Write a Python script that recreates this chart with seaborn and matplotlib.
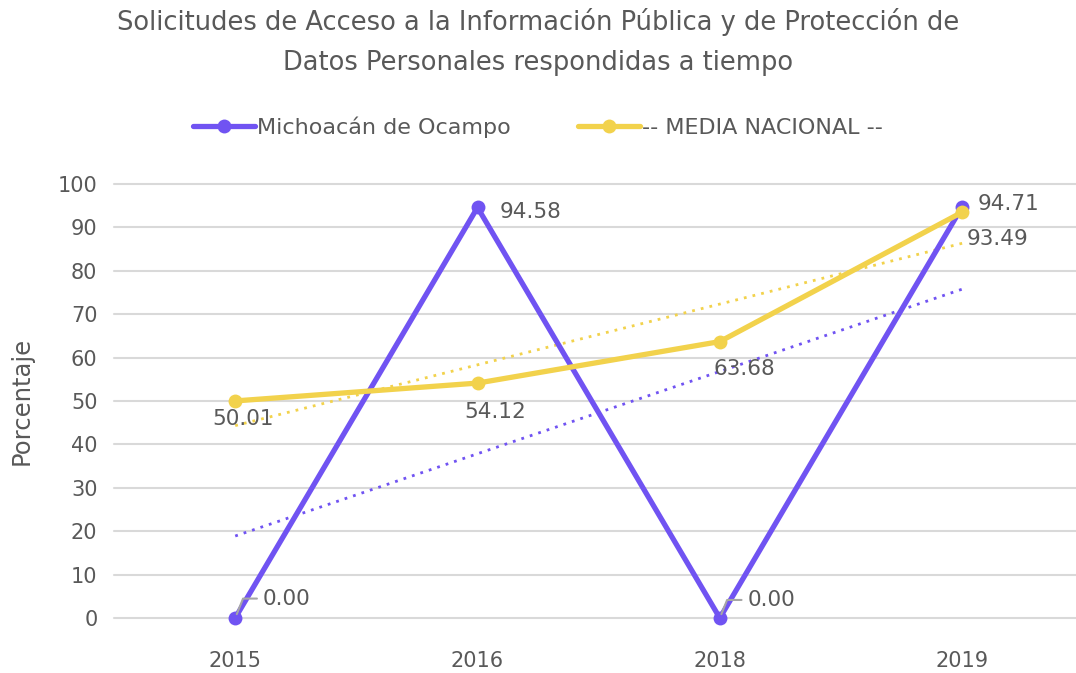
import numpy as np
import pandas as pd
import matplotlib
matplotlib.use("Agg")
import matplotlib.pyplot as plt
import seaborn as sns

years = ["2015", "2016", "2018", "2019"]
michoacan = [0.00, 94.58, 0.00, 94.71]
media = [50.01, 54.12, 63.68, 93.49]
series_names = ["Michoacán de Ocampo", "-- MEDIA NACIONAL --"]
y_ticks = [0, 10, 20, 30, 40, 50, 60, 70, 80, 90, 100]

PURPLE = "#7053F2"
YELLOW = "#F2D24C"
TEXT = "#595959"
GRID = "#D9D9D9"

sns.set_theme(style="white")
plt.rcParams["font.family"] = ["DejaVu Sans"]

df = pd.DataFrame({
    "Año": years * 2,
    "Valor": michoacan + media,
    "Serie": [series_names[0]] * 4 + [series_names[1]] * 4,
})

fig = plt.figure(figsize=(10.76, 6.73), dpi=100)
ax = fig.add_axes([0.106, 0.0817, 0.894, 0.645])

sns.lineplot(data=df, x="Año", y="Valor", hue="Serie",
             palette=[PURPLE, YELLOW], linewidth=3.8, marker="o",
             markersize=10, markeredgewidth=0, ax=ax, sort=False,
             legend=True)
for ln in ax.lines:
    ln.set_clip_on(False)

# trend lines (linear fit)
xpos = np.arange(len(years))
for vals, col in [(michoacan, PURPLE), (media, YELLOW)]:
    m, b = np.polyfit(xpos, vals, 1)
    ax.plot(xpos, m * xpos + b, color=col, linewidth=2.0,
            linestyle=(0, (1, 2.2)), zorder=1.5)

# data labels
lab_fs = 15.5
def lab(x, y, txt, dx, dy, ha="left", va="center", leader=False):
    kw = {}
    if leader:
        kw["arrowprops"] = dict(arrowstyle="-", color="#A6A6A6", lw=1.5,
                                shrinkA=2, shrinkB=3,
                                connectionstyle="angle,angleA=180,angleB=68,rad=0")
    ax.annotate(txt, (x, y), xytext=(dx, dy), textcoords="offset points",
                ha=ha, va=va, fontsize=lab_fs, color=TEXT, **kw)

lab(0, michoacan[0], "0.00", 20, 14, leader=True)
lab(1, michoacan[1], "94.58", 16, -3)
lab(2, michoacan[2], "0.00", 20, 13, leader=True)
lab(3, michoacan[3], "94.71", 11, 2)
lab(0, media[0], "50.01", 6, -13, ha="center")
lab(1, media[1], "54.12", 13, -21, ha="center")
lab(2, media[2], "63.68", 18, -20, ha="center")
lab(3, media[3], "93.49", 3, -19)

ax.set_xlim(-0.5, 3.47)
ax.set_ylim(0, 100)
ax.set_yticks(y_ticks)
ax.yaxis.grid(True, color=GRID, linewidth=1.5)
for gl in ax.get_ygridlines():
    gl.set_clip_on(False)
ax.set_axisbelow(True)
for s in ax.spines.values():
    s.set_visible(False)
ax.tick_params(axis="both", colors=TEXT, labelsize=15, length=0)
ax.tick_params(axis="y", pad=12)
ax.tick_params(axis="x", pad=24)
ax.set_xlabel("")
ax.set_ylabel("Porcentaje", fontsize=17.5, color=TEXT)
ax.yaxis.set_label_coords(-0.084, 0.5)

leg = ax.legend(loc="center", bbox_to_anchor=(0.5, 0.811),
                bbox_transform=fig.transFigure, ncol=2, frameon=False,
                fontsize=16, handlelength=2.8, handletextpad=0.1,
                columnspacing=3.0)
for t in leg.get_texts():
    t.set_color(TEXT)
for h in leg.get_lines():
    h.set_linewidth(3.8)
    h.set_markersize(10)

fig.text(0.5, 0.967, "Solicitudes de Acceso a la Información Pública y de Protección de",
         ha="center", va="center", fontsize=18.5, color=TEXT)
fig.text(0.5, 0.907, "Datos Personales respondidas a tiempo",
         ha="center", va="center", fontsize=18.5, color=TEXT)

fig.savefig("out.png", dpi=100)
